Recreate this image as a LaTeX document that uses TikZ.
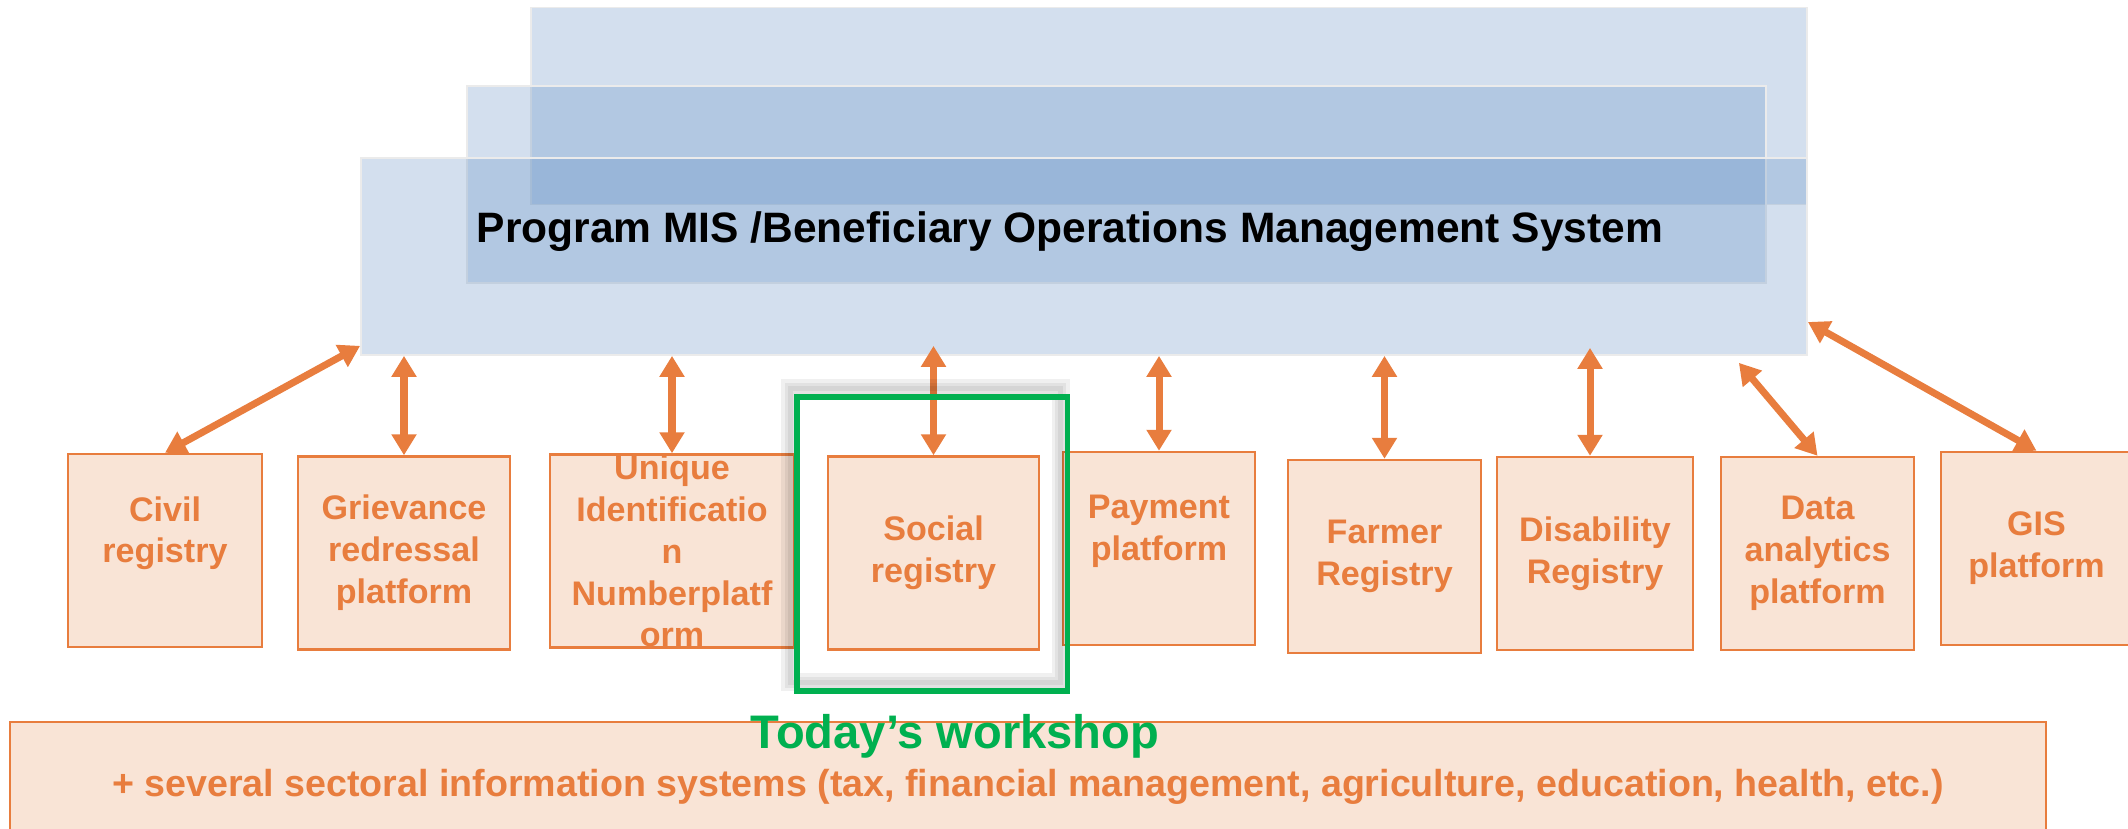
\documentclass[tikz,border=0pt]{standalone}
\usepackage{fontspec}
\setmainfont{Liberation Sans}
\usetikzlibrary{arrows.meta}
\definecolor{misblue}{RGB}{79,129,189}
\definecolor{regorange}{RGB}{232,125,62}
\definecolor{regfill}{RGB}{249,228,214}
\definecolor{focusgreen}{RGB}{0,176,80}
\begin{document}
\begin{tikzpicture}[
    layer/.style={draw=white!92!black, line width=0.5pt, fill=misblue, fill opacity=0.25, inner sep=0pt, minimum height=1.97cm},
    regbox/.style={draw=regorange, line width=0.7pt, fill=regfill, text=regorange, align=center, inner sep=0pt, minimum height=1.93cm,
        font=\fontsize{9.7}{11.9}\selectfont\bfseries},
    link/.style={draw=regorange, line width=2pt, {Triangle[width=2.4mm,length=2.1mm]}-{Triangle[width=2.4mm,length=2.1mm]}},
    halo/.style={draw=black, opacity=0.06, line width=#1},
    focus/.style={draw=focusgreen, line width=1.6pt}
  ]
  \useasboundingbox (0,0) rectangle (21.28,8.28);

  % management system, three layers
  \node[layer, minimum width=12.76cm] (layer3) at (11.69,7.22) {};
  \node[layer, minimum width=12.99cm] (layer2) at (11.165,6.435) {};
  \node[layer, minimum width=14.46cm] (mis) at (10.84,5.715) {};
  \node[anchor=base west, inner sep=0pt, font=\fontsize{12.1}{14}\selectfont\bfseries] (title) at (4.76,5.85)
    {Program MIS /Beneficiary Operations Management System};

  % registries and platforms
  \node[regbox, minimum width=1.94cm] (civil) at (1.65,2.775) {Civil\\registry\\\mbox{}};
  \node[regbox, minimum width=2.12cm] (griev) at (4.04,2.75) {Grievance\\redressal\\platform};
  \node[regbox, minimum width=2.44cm] (unique) at (6.72,2.77) {Unique\\Identificatio\\n\\Numberplatf\\orm};
  \node[regbox, minimum width=2.11cm] (social) at (9.335,2.75) {Social\\registry};
  \node[regbox, minimum width=1.92cm] (payment) at (11.59,2.795) {Payment\\platform\\\mbox{}};
  \node[regbox, minimum width=1.93cm] (farmer) at (13.845,2.715) {Farmer\\Registry};
  \node[regbox, minimum width=1.96cm] (disab) at (15.95,2.745) {Disability\\Registry};
  \node[regbox, minimum width=1.93cm] (data) at (18.175,2.745) {Data\\analytics\\platform};
  \node[regbox, minimum width=1.91cm] (gis) at (20.365,2.795) {GIS\\platform};

  \node[regbox, minimum width=20.36cm, minimum height=1.29cm, font=\fontsize{10.7}{13}\selectfont\bfseries] (sectors) at (10.28,0.415)
    {+ several sectoral information systems (tax, financial management, agriculture, education, health, etc.)};

  % links to the MIS
  \draw[link] (civil.north) -- ([yshift=1mm]mis.south west);
  \draw[link] (griev.north) -- (griev.north |- mis.south);
  \draw[link] (unique.north) -- (unique.north |- mis.south);
  \draw[link] (social.north) -- ([yshift=1mm]social.north |- mis.south);
  \draw[link] (payment.north) -- (payment.north |- mis.south);
  \draw[link] (farmer.north) -- (farmer.north |- mis.south);
  \draw[link] ([xshift=-0.5mm]disab.north) -- ([xshift=-0.5mm,yshift=0.8mm]disab.north |- mis.south);
  \draw[link] (data.north) -- ([xshift=-6.9mm,yshift=-0.7mm]mis.south east);
  \draw[link] (gis.north) -- ([yshift=-6.55mm]mis.east);

  % today's workshop
  \draw[halo=1.8mm] (7.9,4.4) rectangle (10.605,1.46);
  \draw[halo=1.1mm] (7.9,4.4) rectangle (10.605,1.46);
  \draw[halo=0.5mm] (7.9,4.4) rectangle (10.605,1.46);
  \draw[focus] (7.97,4.31) rectangle (10.675,1.37);
  \node[anchor=base, text=focusgreen, font=\fontsize{13.4}{16}\selectfont\bfseries] (today) at (9.55,0.80) {Today’s workshop};
\end{tikzpicture}
\end{document}
